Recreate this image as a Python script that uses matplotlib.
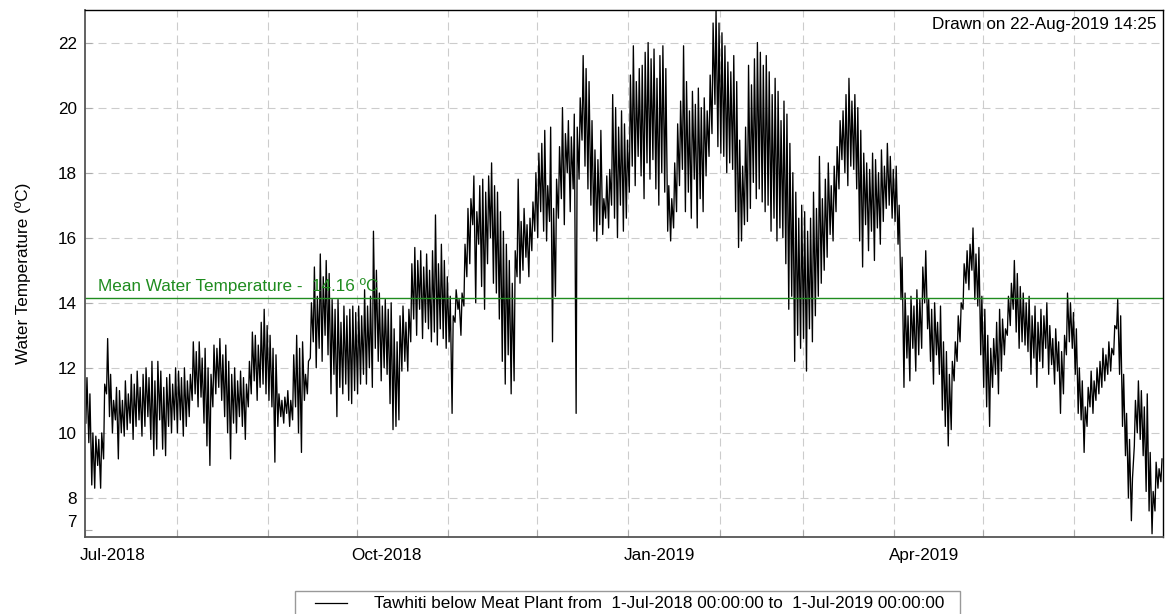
import datetime as dt
import matplotlib
matplotlib.use("Agg")
import matplotlib.pyplot as plt
from matplotlib.transforms import ScaledTranslation, blended_transform_factory
from matplotlib.patches import Rectangle
from matplotlib.lines import Line2D

plt.rcParams['font.family'] = ['Liberation Sans', 'DejaVu Sans']

# daily maximum / minimum water temperature (ºC)
jul_hi = [11.7, 11.2, 10.0, 9.9, 9.8, 10.0, 11.5, 12.9, 11.8, 11.0, 11.4, 11.3, 11.0, 11.6, 11.2, 11.8,
          11.5, 11.9, 11.4, 11.8, 12.0, 11.7, 12.2, 11.6, 12.2, 11.9, 11.4, 11.7, 11.8, 11.5, 12.0]
jul_lo = [10.3, 9.7, 8.4, 8.3, 9.0, 8.3, 9.2, 11.2, 10.5, 10.0, 10.4, 9.2, 10.0, 9.9, 10.1, 10.3,
          9.8, 10.2, 10.4, 9.9, 10.2, 10.5, 9.8, 9.3, 9.5, 10.4, 9.5, 9.3, 10.2, 10.0, 10.4]
aug_hi = [11.9, 11.7, 12.0, 11.6, 11.8, 12.8, 12.5, 12.8, 12.3, 12.6, 12.0, 11.8, 12.7, 12.6, 12.9, 12.4,
          12.7, 12.2, 11.8, 12.0, 11.6, 11.9, 11.7, 11.5, 12.2, 13.1, 13.0, 12.7, 13.4, 13.8, 13.3]
aug_lo = [10.0, 10.4, 9.9, 10.2, 10.5, 11.0, 11.2, 10.8, 11.1, 10.3, 9.6, 9.0, 10.8, 11.2, 11.4, 11.0,
          10.5, 10.0, 9.2, 10.3, 10.0, 10.5, 10.2, 9.8, 10.8, 11.2, 11.6, 11.0, 11.4, 11.5, 11.2]
sep_hi = [13.0, 12.6, 12.4, 11.2, 11.0, 11.1, 11.3, 11.0, 12.4, 13.0, 12.6, 12.8, 11.8, 12.2, 14.0,
          15.1, 14.2, 15.5, 14.8, 15.3, 14.9, 14.1, 13.8, 14.1, 13.4, 13.9, 13.6, 13.8, 13.9, 13.7]
sep_lo = [11.0, 10.8, 9.1, 10.2, 10.5, 10.3, 10.6, 10.2, 10.4, 10.8, 10.0, 9.4, 11.0, 11.2, 12.3,
          12.8, 12.0, 12.6, 12.2, 13.0, 12.4, 11.2, 11.8, 10.5, 11.4, 11.2, 11.5, 11.0, 10.9, 11.3]
oct_hi = [13.9, 13.6, 14.4, 13.9, 14.2, 16.2, 15.0, 14.3, 13.9, 14.1, 13.8, 14.0, 13.2, 12.8, 13.6, 13.9,
          13.4, 13.8, 15.2, 15.7, 15.3, 15.6, 15.1, 15.5, 15.0, 15.6, 16.7, 15.2, 15.8, 15.3, 14.8]
oct_lo = [11.2, 11.5, 11.8, 11.5, 12.0, 11.4, 12.6, 12.2, 11.6, 12.0, 11.8, 10.9, 10.1, 10.2, 10.4, 11.9,
          12.2, 11.9, 12.8, 13.5, 13.0, 13.8, 12.9, 13.4, 13.2, 12.8, 13.1, 12.7, 13.2, 12.9, 12.6]
nov_hi = [14.2, 13.6, 14.4, 14.1, 14.3, 15.8, 16.9, 17.2, 17.9, 16.8, 17.6, 17.8, 17.4, 17.9, 18.3,
          17.6, 17.4, 16.8, 16.2, 15.8, 15.3, 14.6, 15.6, 17.8, 16.5, 16.9, 16.4, 16.6, 17.1, 18.0]
nov_lo = [12.8, 10.6, 13.4, 13.8, 13.0, 13.9, 14.8, 15.2, 16.4, 14.0, 15.8, 14.5, 13.8, 15.2, 16.0,
          14.6, 14.3, 13.5, 12.2, 11.5, 12.4, 11.2, 11.6, 14.8, 14.6, 15.0, 15.4, 14.8, 15.6, 16.2]
dec_hi = [18.6, 18.9, 19.3, 17.6, 19.4, 16.9, 17.8, 18.8, 20.0, 19.2, 19.6, 19.1, 19.8, 19.4, 20.3, 21.6,
          21.2, 20.8, 19.6, 18.7, 18.4, 19.3, 17.2, 17.9, 18.1, 20.4, 20.0, 19.4, 19.9, 19.5, 19.0]
dec_lo = [16.0, 16.8, 16.2, 15.9, 16.5, 12.8, 14.2, 16.6, 17.2, 16.4, 18.0, 16.8, 17.5, 10.6, 17.8, 19.0,
          18.2, 17.5, 17.0, 16.2, 15.9, 16.4, 16.1, 16.6, 16.3, 17.0, 16.6, 16.0, 17.0, 16.2, 16.6]
jan_hi = [21.0, 21.9, 20.8, 21.2, 21.3, 21.7, 22.0, 21.5, 21.8, 20.9, 21.6, 21.9, 21.2, 17.6, 17.2, 18.3,
          19.5, 20.2, 21.9, 20.8, 19.9, 20.5, 20.1, 20.6, 20.0, 20.3, 19.9, 21.0, 22.6, 23.0, 22.6]
jan_lo = [17.4, 18.2, 17.6, 18.5, 17.9, 17.2, 18.3, 17.8, 18.4, 17.5, 17.0, 18.0, 17.4, 16.2, 15.9, 16.3,
          16.8, 17.6, 18.1, 16.8, 17.4, 16.6, 17.8, 16.3, 17.2, 16.8, 17.9, 18.5, 19.2, 20.1, 18.8]
feb_hi = [22.3, 21.9, 21.4, 21.1, 21.6, 20.8, 19.0, 18.2, 19.4, 21.3, 20.7, 21.5, 22.0, 21.7,
          21.3, 21.6, 21.1, 20.4, 20.9, 20.5, 19.6, 20.2, 19.8, 18.9, 18.0, 17.4, 16.6, 17.0]
feb_lo = [18.6, 18.5, 18.0, 18.3, 18.1, 16.8, 15.7, 15.9, 16.4, 16.5, 16.9, 17.7, 17.2, 17.5,
          17.1, 16.8, 17.0, 16.2, 16.6, 15.9, 16.3, 16.0, 15.2, 13.8, 14.2, 12.2, 13.0, 12.6]
mar_hi = [16.8, 16.2, 16.6, 17.4, 16.9, 18.5, 17.2, 17.8, 18.3, 17.6, 18.2, 18.8, 19.6, 19.9, 20.4, 20.9,
          20.2, 20.4, 20.0, 19.3, 18.6, 18.3, 18.1, 18.6, 18.4, 18.0, 18.7, 18.2, 18.9, 18.5, 18.1]
mar_lo = [12.9, 11.9, 13.2, 12.8, 13.6, 14.2, 14.6, 15.0, 15.4, 16.1, 15.9, 16.8, 17.5, 18.4, 18.0, 17.6,
          18.2, 18.1, 17.5, 15.9, 15.1, 16.4, 15.6, 16.2, 15.3, 16.3, 15.8, 16.5, 16.9, 17.0, 16.6]
apr_hi = [18.2, 17.0, 15.4, 14.3, 13.6, 14.2, 13.9, 14.4, 14.1, 15.1, 15.6, 14.1, 13.8, 14.0, 13.4,
          13.9, 12.8, 12.5, 11.8, 12.2, 12.8, 13.6, 14.0, 15.2, 15.6, 15.8, 16.3, 15.5, 15.7, 14.2]
apr_lo = [16.5, 15.8, 14.1, 11.4, 12.3, 11.6, 12.6, 11.9, 12.4, 12.6, 14.0, 13.2, 12.2, 11.5, 12.4,
          11.8, 10.7, 10.2, 9.6, 10.1, 11.6, 12.2, 12.8, 13.8, 14.6, 14.4, 15.0, 14.1, 13.9, 12.4]
may_hi = [13.8, 13.0, 12.6, 12.9, 13.4, 13.8, 13.5, 13.2, 14.2, 14.6, 15.3, 14.9, 14.5, 14.3, 14.0, 14.2,
          13.6, 13.9, 13.4, 13.8, 13.6, 14.0, 13.3, 12.9, 13.2, 12.8, 12.5, 13.0, 14.3, 14.0, 13.7]
may_lo = [11.4, 10.8, 10.2, 11.4, 11.8, 11.2, 11.9, 12.4, 13.0, 13.3, 13.8, 13.1, 12.6, 12.8, 12.7, 12.5,
          11.8, 12.3, 11.4, 12.2, 12.0, 12.6, 11.8, 12.1, 11.5, 11.9, 10.6, 11.2, 12.4, 12.8, 12.6]
jun_hi = [13.2, 12.0, 11.6, 10.8, 11.4, 11.9, 11.6, 12.0, 12.2, 12.6, 12.4, 12.8, 12.6, 13.3, 14.1,
          13.6, 11.8, 10.6, 9.8, 8.6, 11.0, 11.6, 11.3, 10.8, 11.2, 9.4, 8.2, 9.1, 8.9, 9.2]
jun_lo = [11.8, 10.6, 10.4, 9.4, 10.2, 10.8, 10.6, 11.0, 11.2, 11.4, 11.6, 11.8, 11.9, 12.4, 13.2,
          11.8, 10.2, 9.3, 8.0, 7.3, 9.6, 10.0, 9.8, 9.3, 8.2, 7.6, 6.9, 7.6, 8.3, 8.5]

month_starts = [dt.datetime(2018, m, 1) for m in range(7, 13)] + [dt.datetime(2019, m, 1) for m in range(1, 7)]
month_hi = [jul_hi, aug_hi, sep_hi, oct_hi, nov_hi, dec_hi, jan_hi, feb_hi, mar_hi, apr_hi, may_hi, jun_hi]
month_lo = [jul_lo, aug_lo, sep_lo, oct_lo, nov_lo, dec_lo, jan_lo, feb_lo, mar_lo, apr_lo, may_lo, jun_lo]

mean_temp = 14.16
y_ticks = [7, 8, 10, 12, 14, 16, 18, 20, 22]
start = dt.datetime(2018, 7, 1)
end = dt.datetime(2019, 7, 1)

GREEN = '#1f8c1f'
FS = 12.3

# morning minimum then afternoon maximum for every day
times = []
temps = []
for m0, his, los in zip(month_starts, month_hi, month_lo):
    for i in range(len(his)):
        day = m0 + dt.timedelta(days=i)
        times.append(day + dt.timedelta(hours=7))
        temps.append(los[i])
        times.append(day + dt.timedelta(hours=16))
        temps.append(his[i])

W, H = 1165, 614
fig = plt.figure(figsize=(W / 100, H / 100), dpi=100)
ax = fig.add_axes([85 / W, 1 - 537 / H, (1163 - 85) / W, (537 - 10) / H])

ax.plot(times, temps, color='black', lw=0.95)
ax.axhline(mean_temp, color=GREEN, lw=1.0)

tr = blended_transform_factory(ax.transAxes, ax.transData)
ax.text(0.012, mean_temp + 0.2, "Mean Water Temperature -  %.2f ºC" % mean_temp,
        transform=tr, color=GREEN, fontsize=FS, va='baseline', ha='left')

ax.set_xlim(start, end)
ax.set_ylim(6.8, 23.0)

# grid
months = [start] + month_starts[1:]
for m in months[1:]:
    ax.axvline(m, color='#cccccc', lw=0.8, ls=(0, (7.2, 4.5)), zorder=0)
for y in y_ticks[1:]:
    ax.axhline(y, color='#cccccc', lw=0.8, ls=(0, (7.2, 4.5)), zorder=0)

ax.set_xticks(months)
ax.set_xticklabels([m.strftime('%b-%Y') if m.month in (1, 4, 7, 10) else '' for m in months])
ax.set_yticks(y_ticks)
ax.set_yticklabels([str(v) for v in y_ticks])
ax.tick_params(axis='both', direction='in', length=5, color='#aaaaaa', labelsize=FS)
ax.tick_params(axis='x', pad=8)
ax.tick_params(axis='y', pad=6)

shift = ScaledTranslation(-5 / 100, 0, fig.dpi_scale_trans)
for lbl in ax.get_xticklabels():
    lbl.set_ha('left')
    lbl.set_transform(lbl.get_transform() + shift)
ax.get_yticklabels()[0].set_va('bottom')

for side in ('left', 'bottom'):
    ax.spines[side].set_color('#555555')
    ax.spines[side].set_linewidth(1.3)
for side in ('top', 'right'):
    ax.spines[side].set_color('black')
    ax.spines[side].set_linewidth(1.0)

ax.set_ylabel('Water Temperature (ºC)', fontsize=FS)
ax.yaxis.set_label_coords(-0.05, 0.5)

fig.text(1156 / W, 1 - 17 / H, 'Drawn on 22-Aug-2019 14:25', ha='right', va='top', fontsize=FS)

# legend box
fig.patches.append(Rectangle((295 / W, 1 - 618 / H), (960 - 295) / W, 27 / H,
                             transform=fig.transFigure, facecolor='white', edgecolor='#999999', lw=1.0))
fig.lines.append(Line2D([315 / W, 347 / W], [1 - 603 / H, 1 - 603 / H],
                        transform=fig.transFigure, color='black', lw=0.9))
fig.text(374 / W, 1 - 603 / H,
         'Tawhiti below Meat Plant from  1-Jul-2018 00:00:00 to  1-Jul-2019 00:00:00',
         ha='left', va='center', fontsize=FS)

fig.savefig('out.png', dpi=100)
